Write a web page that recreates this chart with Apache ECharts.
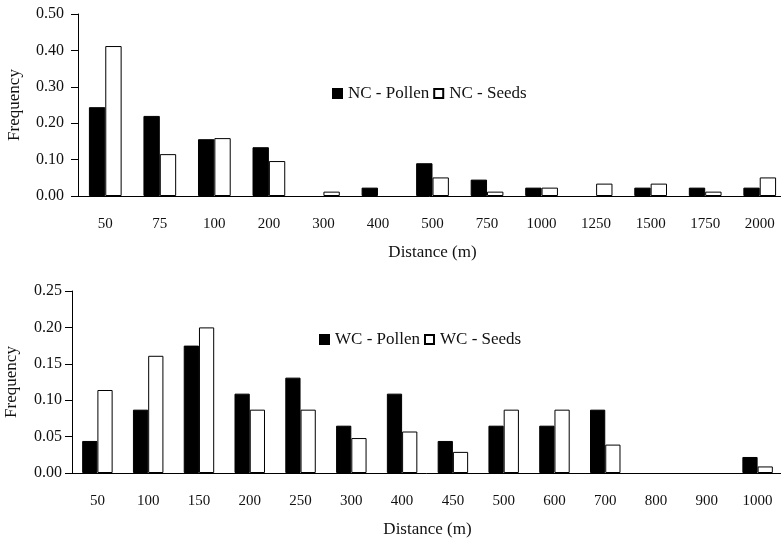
<!DOCTYPE html>
<html>
<head>
    <meta charset="utf-8">
    <title>Dispersal distance</title>
    <script src="https://cdn.jsdelivr.net/npm/echarts@6/dist/echarts.min.js"></script>
    <style>
        html, body { margin: 0; padding: 0; background: #fff; }
    </style>
</head>
<body>
<div id="main" style="width: 781px;height: 540px"></div>

<script>
    // top panel (NC)
    let ncDistances = ['50', '75', '100', '200', '300', '400', '500', '750', '1000', '1250', '1500', '1750', '2000'];
    let ncPollen = [0.244, 0.22, 0.156, 0.134, 0, 0.023, 0.09, 0.045, 0.023, 0, 0.023, 0.023, 0.023];
    let ncSeeds = [0.412, 0.115, 0.159, 0.096, 0.012, 0, 0.051, 0.012, 0.023, 0.034, 0.034, 0.012, 0.051];

    // bottom panel (WC)
    let wcDistances = ['50', '100', '150', '200', '250', '300', '400', '450', '500', '600', '700', '800', '900', '1000'];
    let wcPollen = [0.044, 0.087, 0.175, 0.109, 0.131, 0.065, 0.109, 0.044, 0.065, 0.065, 0.087, 0, 0, 0.022];
    let wcSeeds = [0.114, 0.161, 0.2, 0.087, 0.087, 0.048, 0.057, 0.029, 0.087, 0.087, 0.039, 0, 0, 0.009];

    let serif = '"Liberation Serif", "DejaVu Serif", serif';
    let ink = '#111';

    function xAxisFor(gridIndex, cats) {
        return {
            type: 'category',
            gridIndex: gridIndex,
            data: cats,
            boundaryGap: true,
            name: 'Distance (m)',
            nameLocation: 'middle',
            nameGap: 48,
            nameTextStyle: {fontFamily: serif, fontSize: 17, color: ink},
            axisLine: {lineStyle: {color: '#000', width: 1}},
            axisTick: {length: 6, lineStyle: {color: '#000'}},
            axisLabel: {fontFamily: serif, fontSize: 15, color: ink, margin: 21, interval: 0}
        };
    }

    function yAxisFor(gridIndex, max, interval, gap, labelMargin) {
        return {
            type: 'value',
            gridIndex: gridIndex,
            min: 0,
            max: max,
            interval: interval,
            name: 'Frequency',
            nameLocation: 'middle',
            nameGap: gap,
            nameTextStyle: {fontFamily: serif, fontSize: 17, color: ink},
            splitLine: {show: false},
            axisLine: {show: true, lineStyle: {color: '#000', width: 1}},
            axisTick: {show: true, length: 7, lineStyle: {color: '#000'}},
            axisLabel: {
                fontFamily: serif, fontSize: 16, color: ink, margin: labelMargin,
                formatter: function (v) { return v.toFixed(2); }
            }
        };
    }

    // zero-height bars are left out so their border doesn't show on the axis
    function barSeries(name, idx, data, filled) {
        return {
            name: name,
            type: 'bar',
            xAxisIndex: idx,
            yAxisIndex: idx,
            data: data.map(function (v) { return v === 0 ? '-' : v; }),
            barGap: '0%',
            barCategoryGap: '40%',
            itemStyle: filled
                ? {color: '#000', borderColor: '#000', borderWidth: 1}
                : {color: '#fff', borderColor: '#000', borderWidth: 1},
            emphasis: {disabled: true}
        };
    }

    let legendBase = {
        orient: 'horizontal',
        icon: 'rect',
        itemWidth: 9,
        itemHeight: 9,
        itemGap: 4,
        padding: 0,
        textStyle: {fontFamily: serif, fontSize: 17, color: ink, padding: [0, 0, 0, 1]},
        selectedMode: false
    };

    var myChart = echarts.init(document.getElementById('main'));
    myChart.setOption({
        animation: false,
        backgroundColor: '#fff',
        grid: [
            {left: 78, top: 14, width: 709, height: 182, outerBoundsMode: 'none'},
            {left: 72, top: 291, width: 711, height: 182, outerBoundsMode: 'none'}
        ],
        legend: [
            Object.assign({}, legendBase, {left: 332, top: 85, data: ['NC - Pollen', 'NC - Seeds']}),
            Object.assign({}, legendBase, {left: 319, top: 331, data: ['WC - Pollen', 'WC - Seeds']})
        ],
        xAxis: [xAxisFor(0, ncDistances), xAxisFor(1, wcDistances)],
        yAxis: [yAxisFor(0, 0.5, 0.1, 55, 14), yAxisFor(1, 0.25, 0.05, 52, 10)],
        series: [
            barSeries('NC - Pollen', 0, ncPollen, true),
            barSeries('NC - Seeds', 0, ncSeeds, false),
            barSeries('WC - Pollen', 1, wcPollen, true),
            barSeries('WC - Seeds', 1, wcSeeds, false)
        ]
    });
</script>

</body>
</html>
